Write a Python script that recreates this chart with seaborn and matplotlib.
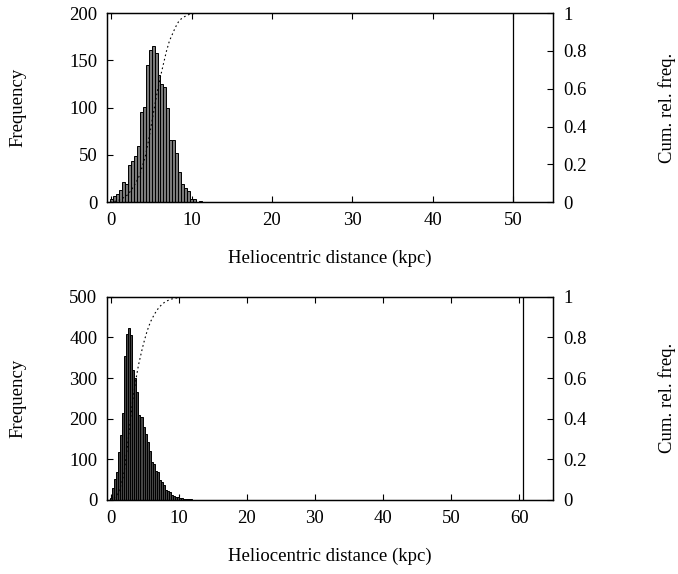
import numpy as np
import pandas as pd
import matplotlib
matplotlib.use("Agg")
import matplotlib.pyplot as plt
import seaborn as sns

# ---------------- data ----------------
top_bin_start = -0.15
top_bin_width = 0.37
top_counts = [3, 6, 9, 13, 21, 19, 39, 44, 49, 59, 95, 101, 145, 161,
              165, 158, 135, 125, 122, 100, 66, 66, 52, 32, 19, 15, 12,
              3.5, 3, 0, 1.5]
top_vline = 50.0
top_xticks = [0, 10, 20, 30, 40, 50]
top_yticks = [0, 50, 100, 150, 200]

bot_bin_start = -0.1
bot_bin_width = 0.3
bot_counts = [6, 30, 52, 68, 118, 160, 215, 355, 408, 422, 405, 320, 300,
              265, 208, 203, 180, 163, 143, 120, 93, 88, 71, 70, 48, 44,
              37, 24, 22, 19, 11, 10, 8, 7, 5, 4, 3, 3, 2, 2]
bot_vline = 60.5
bot_xticks = [0, 10, 20, 30, 40, 50, 60]
bot_yticks = [0, 100, 200, 300, 400, 500]

cum_ticks = [0, 0.2, 0.4, 0.6, 0.8, 1.0]
cum_labels = ["0", "0.2", "0.4", "0.6", "0.8", "1"]

xlabel = "Heliocentric distance (kpc)"
ylabel_left = "Frequency"
ylabel_right = "Cum. rel. freq."

# ---------------- style ----------------
sns.set_style("ticks")
plt.rcParams["font.family"] = ["Liberation Serif", "DejaVu Serif"]
FS = 13.5
plt.rcParams.update({
    "font.size": FS,
    "axes.linewidth": 0.9,
    "text.color": "black",
    "axes.labelcolor": "black",
    "axes.edgecolor": "black",
    "xtick.color": "black",
    "ytick.color": "black",
})

fig = plt.figure(figsize=(6.78, 5.74), dpi=100)


def panel(rect, start, width, counts, vline, xticks, xlim, yticks, fill):
    counts = np.asarray(counts, dtype=float)
    edges = start + width * np.arange(len(counts) + 1)
    centers = 0.5 * (edges[:-1] + edges[1:])
    df = pd.DataFrame({"x": centers, "w": counts})

    ax = fig.add_axes(rect)
    sns.histplot(data=df, x="x", weights="w", bins=[float(e) for e in edges],
                 ax=ax, color=fill, edgecolor="black", linewidth=0.7,
                 alpha=1.0)
    ax.axvline(vline, color="black", lw=0.9)
    ax.set_xlim(*xlim)
    ax.set_ylim(yticks[0], yticks[-1])
    ax.set_xticks(xticks)
    ax.set_yticks(yticks)
    ax.tick_params(direction="in", top=True, right=False, length=4,
                   width=0.8, labelsize=FS, pad=7)
    ax.set_xlabel(xlabel, fontsize=FS, labelpad=15)
    ax.set_ylabel(ylabel_left, fontsize=FS)
    ax.yaxis.set_label_coords(-0.18, 0.5)
    for s in ax.spines.values():
        s.set_visible(True)

    cum = np.concatenate([[0.0], np.cumsum(counts) / counts.sum()])
    ax2 = ax.twinx()
    sns.lineplot(x=edges, y=cum, ax=ax2, color="black", lw=0.8,
                 linestyle=(0, (1.5, 2.5)), sort=True)
    ax2.set_ylim(0, 1)
    ax2.set_yticks(cum_ticks)
    ax2.set_yticklabels(cum_labels)
    ax2.tick_params(direction="in", length=4, width=0.8, labelsize=FS,
                    pad=7)
    ax2.set_ylabel(ylabel_right, fontsize=FS)
    ax2.yaxis.set_label_coords(1.235, 0.5)
    return ax, ax2


panel([0.158, 0.648, 0.658, 0.329], top_bin_start, top_bin_width,
      top_counts, top_vline, top_xticks, (-0.5, 55), top_yticks, "#7a7a7a")
panel([0.158, 0.129, 0.658, 0.354], bot_bin_start, bot_bin_width,
      bot_counts, bot_vline, bot_xticks, (-0.5, 65), bot_yticks, "#454545")

fig.savefig("out.png", dpi=100)
